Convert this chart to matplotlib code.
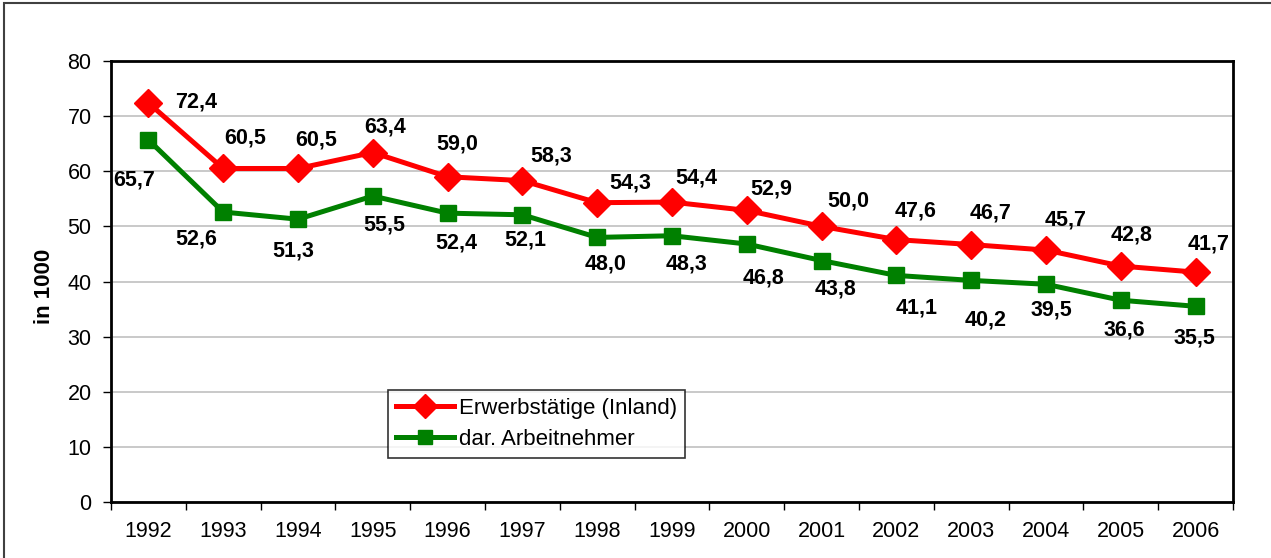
import matplotlib
matplotlib.use('Agg')
import matplotlib.pyplot as plt
from matplotlib.patches import Rectangle

# Data
years = ['1992', '1993', '1994', '1995', '1996', '1997', '1998', '1999',
         '2000', '2001', '2002', '2003', '2004', '2005', '2006']
erwerbstaetige = [72.4, 60.5, 60.5, 63.4, 59.0, 58.3, 54.3, 54.4,
                  52.9, 50.0, 47.6, 46.7, 45.7, 42.8, 41.7]
arbeitnehmer = [65.7, 52.6, 51.3, 55.5, 52.4, 52.1, 48.0, 48.3,
                46.8, 43.8, 41.1, 40.2, 39.5, 36.6, 35.5]

# label offsets in pixels (dx, dy)
red_offsets = [(48, 1), (22, 30), (18, 28), (12, 26), (10, 33), (29, 25), (33, 20), (24, 24),
               (24, 21), (27, 25), (19, 29), (19, 32), (20, 30), (11, 31), (13, 28)]
green_offsets = [(-14, -40), (-27, -27), (-5, -32), (12, -29), (9, -30), (3, -25), (8, -27), (14, -28),
                 (17, -34), (14, -28), (20, -33), (14, -40), (5, -26), (4, -30), (-1, -32)]

plt.rcParams['font.family'] = ['Liberation Sans', 'DejaVu Sans']

fig = plt.figure(figsize=(12.71, 5.58), dpi=100)
ax = fig.add_axes([111 / 1271, 56 / 558, 1122 / 1271, 441 / 558])

x = list(range(len(years)))
ax.plot(x, erwerbstaetige, color='#FF0000', lw=3.6, marker='D', ms=14,
        label='Erwerbstätige (Inland)', zorder=4)
ax.plot(x, arbeitnehmer, color='#008000', lw=3.6, marker='s', ms=11,
        label='dar. Arbeitnehmer', zorder=3)

def fmt(v):
    return f'{v:.1f}'.replace('.', ',')

for i, v in enumerate(erwerbstaetige):
    ax.annotate(fmt(v), (i, v), xytext=red_offsets[i], textcoords='offset pixels',
                ha='center', va='center', fontsize=15.5, fontweight='bold', zorder=5)
for i, v in enumerate(arbeitnehmer):
    ax.annotate(fmt(v), (i, v), xytext=green_offsets[i], textcoords='offset pixels',
                ha='center', va='center', fontsize=15.5, fontweight='bold', zorder=5)

ax.set_xlim(-0.5, len(years) - 0.5)
ax.set_ylim(0, 80)
ax.set_yticks(range(0, 81, 10))
ax.yaxis.grid(True, color='#C0C0C0', lw=1.2)
ax.set_axisbelow(True)

# category ticks between years, labels centred
ax.set_xticks([i - 0.5 for i in range(len(years) + 1)])
ax.set_xticklabels([])
ax.set_xticks(x, minor=True)
ax.set_xticklabels(years, minor=True)
ax.tick_params(axis='x', which='major', length=6, width=1, direction='out')
ax.tick_params(axis='x', which='minor', length=0, pad=14, labelsize=15.5)
ax.tick_params(axis='y', length=6, width=1, pad=8, labelsize=15.5)

for s in ax.spines.values():
    s.set_linewidth(2)
    s.set_color('black')

fig.text(45 / 1271, (558 - 286) / 558, 'in 1000', rotation=90, ha='center', va='center',
         fontsize=16, fontweight='bold')

leg = ax.legend(loc='upper left', bbox_to_anchor=(0.2469, 0.254), borderaxespad=0,
                fontsize=16, frameon=True, fancybox=False, edgecolor='black',
                handlelength=2.6, handletextpad=0.25, labelspacing=0.45,
                borderpad=0.35, markerscale=0.9)
leg.get_frame().set_linewidth(1.2)

# outer chart border (left and top visible)
fig.patches.append(Rectangle((4 / 1271, -0.1), 1.2, (555 / 558) + 0.1,
                             transform=fig.transFigure, fill=False,
                             edgecolor='#404040', lw=1.5))

plt.savefig('out.png', dpi=100)
